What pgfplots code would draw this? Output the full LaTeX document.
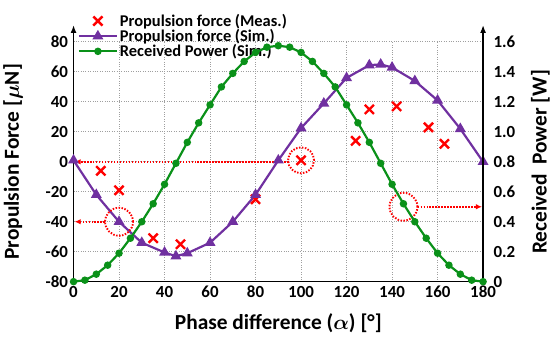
\documentclass[border=0pt]{standalone}
\usepackage{pgfplots}
\pgfplotsset{compat=1.18}
\usepackage{fontspec}
\setmainfont{Carlito}
\usetikzlibrary{arrows.meta}
\definecolor{mypurple}{RGB}{112,48,160}
\definecolor{mygreen}{RGB}{10,145,25}
\definecolor{myred}{RGB}{255,0,0}
\tikzset{reddots/.style={red, line width=1.9pt, dash pattern=on 1.5pt off 1.5pt}}
\begin{document}
\bfseries\boldmath
\begin{tikzpicture}
\pgfplotsset{
  every axis/.append style={
    scale only axis, width=410bp, height=240bp,
    xmin=0, xmax=180, clip=false,
    major tick length=0pt,
    tick label style={font=\bfseries\fontsize{17}{17}\selectfont},
    label style={font=\bfseries\boldmath\fontsize{21.5}{21.5}\selectfont},
  }
}
\begin{axis}[
  ymin=-80, ymax=80,
  axis x line*=bottom, axis y line*=left,
  x axis line style={-, line width=1.6pt},
  y axis line style={draw=none},
  xtick={0,20,...,180},
  xticklabels={0,20,40,60,80,100,120,140,160,180},
  ytick={-80,-60,...,80},
  yticklabels={-80,-60,-40,-20,0,20,40,60,80},
  grid=major,
  grid style={gray!75, dotted, line width=0.9pt},
  xlabel={Phase difference ($\alpha$) [°]},
  ylabel={Propulsion Force [$\mu$N]},
  xlabel style={yshift=-9pt},
  ylabel style={yshift=16pt},
  xticklabel style={yshift=-1pt},
  yticklabel style={xshift=-2pt},
  legend style={at={(rel axis cs:0.01,1.125)}, anchor=north west, draw=none, fill=none,
    font=\bfseries\fontsize{16.5}{16.5}\selectfont, row sep=-2.5pt, inner sep=0pt},
  legend cell align=left,
  legend image code/.code={\draw[mark repeat=2,mark phase=2] plot coordinates {(0bp,0bp) (19bp,0bp) (38bp,0bp)};},
]
\addplot[only marks, mark=x, mark size=6.5pt, myred, line width=2.4pt] coordinates {
(12,-6) (20,-19) (35,-51) (47,-55) (80,-25) (100,1) (124,14) (130,35) (142,37) (156,23) (163,12)};
\addlegendentry{Propulsion force (Meas.)}
\addplot[mypurple, line width=2.2pt, mark=triangle*, mark size=4.2pt, mark options={solid}] coordinates {
(0,1) (10,-22) (20,-40) (30,-54) (40,-60.5) (45,-63) (50,-61) (60,-54) (70,-40) (80,-22) (90,1)
(100,22.5) (110,39) (120,56) (130,64.5) (135,65) (140,63) (150,54) (160,41) (170,22) (180,0)};
\addlegendentry{Propulsion force (Sim.)}
\addlegendimage{mygreen, line width=2.2pt, mark=*, mark size=2.6pt}
\addlegendentry{Received Power (Sim.)}
\draw[reddots] (axis cs:20,-40) circle[radius=14bp];
\draw[reddots] (axis cs:100,1) circle[radius=13bp];
\draw[reddots] (axis cs:145,-30) circle[radius=14bp];
\draw[reddots, -{Latex[length=6pt,width=5.5pt]}] (axis cs:94.5,0) -- (axis cs:0.5,0);
\draw[reddots, -{Latex[length=6pt,width=5.5pt]}] (axis cs:13.8,-40) -- (axis cs:0.5,-40);
\draw[reddots, -{Latex[length=6pt,width=5.5pt]}] (axis cs:151.2,-30) -- (axis cs:179.5,-30);
\draw[black, line width=1.6pt, -{Latex[length=8pt,width=6pt]}] (rel axis cs:0,0) -- ([yshift=17bp]rel axis cs:0,1);
\path ([yshift=42bp]rel axis cs:0,1) ([xshift=72bp]rel axis cs:1,0);
\end{axis}
\begin{axis}[
  ymin=0, ymax=1.6,
  axis x line=none, axis y line*=right,
  y axis line style={draw=none},
  ytick={0,0.2,...,1.6},
  yticklabels={0,0.2,0.4,0.6,0.8,1.0,1.2,1.4,1.6},
  yticklabel style={xshift=7pt},
  ylabel style={yshift=-9pt},
  ylabel={Received~~Power [W]},
]
\addplot[mygreen, line width=2.2pt, mark=*, mark size=2.6pt] coordinates {
(0,0) (5,0.01) (10,0.05) (15,0.11) (20,0.19) (25,0.29) (30,0.40) (35,0.52) (40,0.65) (45,0.79)
(50,0.93) (55,1.06) (60,1.18) (65,1.30) (70,1.39) (75,1.47) (80,1.53) (85,1.565) (90,1.575)
(95,1.565) (100,1.53) (105,1.47) (110,1.39) (115,1.30) (120,1.18) (125,1.06) (130,0.93) (135,0.79)
(140,0.65) (145,0.52) (150,0.40) (155,0.29) (160,0.19) (165,0.11) (170,0.05) (175,0.01) (180,0)};
\draw[black, line width=1.6pt, -{Latex[length=8pt,width=6pt]}] (rel axis cs:1,0) -- ([yshift=17bp]rel axis cs:1,1);
\end{axis}
\end{tikzpicture}
\end{document}
